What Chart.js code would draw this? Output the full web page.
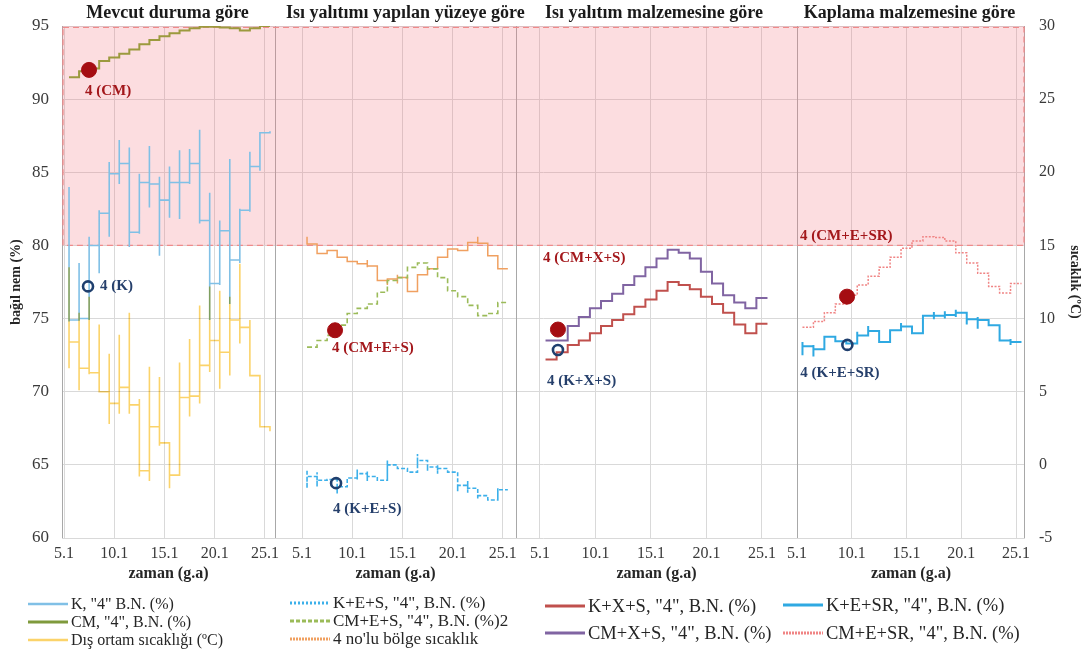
<!DOCTYPE html>
<html>
<head>
<meta charset="utf-8">
<script src="https://cdn.jsdelivr.net/npm/chart.js@4.4.1/dist/chart.umd.min.js"></script>
<style>
  html, body { margin: 0; padding: 0; background: #ffffff; }
  #wrap { width: 1090px; height: 650px; position: relative; }
</style>
</head>
<body>
<div id="wrap"><canvas id="chart" width="1090" height="650"></canvas></div>
<script>
// ---- Days of January (each day's hourly readings are stacked on that day) ----
const days = [5, 6, 7, 8, 9, 10, 11, 12, 13, 14, 15, 16, 17, 18, 19, 20, 21, 22, 23, 24, 25];
const tickDays = [5, 10, 15, 20, 25];
const tickLabels = ['5.1', '10.1', '15.1', '20.1', '25.1'];
const panelTitles = ['Mevcut duruma göre', 'Isı yalıtımı yapılan yüzeye göre',
                     'Isı yalıtım malzemesine göre', 'Kaplama malzemesine göre'];
const comfortBand = [80, 95];   // bağıl nem (%) range shaded as risky

// ---- Panel 1: mevcut durum ----
const kLast  = [74.9, 75.0, 80.0, 82.2, 84.9, 85.6, 80.9, 84.3, 84.2, 83.1, 84.3, 84.3, 85.6, 81.7, 77.4, 81.0, 79.0, 82.4, 85.4, 87.7, 87.8];
const kLow   = [74.8, 74.9, 74.9, 78.1, 80.6, 84.2, 79.9, 80.8, 82.6, 79.3, 81.9, 81.8, 84.2, 81.5, 74.9, 77.3, 76.0, 78.8, 82.3, 85.1, 87.7];
const kHigh  = [84.0, 78.8, 80.6, 82.4, 85.7, 87.2, 86.7, 84.9, 86.8, 84.7, 85.4, 86.5, 86.6, 87.9, 83.6, 81.7, 85.9, 82.5, 86.4, 87.7, 87.8];
const cmLast = [91.5, 91.9, 92.1, 92.6, 92.85, 93.1, 93.4, 93.75, 94.05, 94.3, 94.5, 94.7, 94.85, 94.95, 94.95, 94.9, 94.85, 94.7, 94.85, 95.0, 95.0];
const outdoorLast = [8.4, 6.6, 6.3, 5.0, 4.2, 5.3, 4.1, -0.4, 2.6, 1.5, -0.7, 4.6, 4.7, 6.8, 8.5, 7.7, 9.9, 9.4, 6.1, 2.6, 2.3];
const outdoorLow  = [6.6, 5.1, 6.2, 5.0, 2.8, 3.5, 3.5, -0.8, -1.1, 1.3, -1.6, -0.7, 3.3, 4.2, 6.35, 5.2, 6.1, 8.3, 6.1, 2.6, 2.3];
const outdoorHigh = [13.5, 10.4, 11.5, 9.6, 7.6, 8.9, 10.4, 4.5, 6.7, 6.0, 1.5, 7.0, 8.6, 10.9, 12.2, 11.9, 11.5, 13.75, 9.9, 6.1, 2.6];

// ---- Panel 2: yalıtım yapılan yüzey ----
const kesLast  = [64.2, 63.95, 64.0, 63.5, 64.1, 64.4, 64.2, 63.95, 65.0, 64.75, 64.5, 65.3, 64.85, 64.75, 64.5, 63.6, 63.4, 62.9, 62.6, 63.3, 63.3];
const kesLow   = [63.4, 63.5, null, 63.05, null, 64.0, 63.9, null, 64.0, null, null, 64.85, 64.6, 64.4, null, 63.2, 63.1, 62.7, null, 62.8, null];
const kesHigh  = [64.6, 64.5, null, 64.0, null, 64.7, 64.6, null, 65.3, null, null, 65.75, 65.1, 65.0, null, 64.2, 63.9, 63.3, null, 63.4, null];
const cmesLast = [73.05, 73.5, 73.85, 74.55, 75.35, 75.7, 76.0, 76.8, 77.6, 77.8, 78.5, 78.8, 78.4, 77.8, 76.9, 76.5, 75.9, 75.2, 75.35, 76.1, 76.1];
const zoneLast = [15.1, 14.45, 14.65, 14.2, 13.9, 13.75, 13.6, 12.6, 12.7, 12.8, 11.85, 13.0, 13.4, 14.2, 14.75, 14.65, 15.2, 15.15, 14.3, 13.4, 13.4];
const zoneLow  = [null, null, null, null, null, null, 13.5, null, 12.3, 12.4, null, null, null, null, 14.5, null, 14.6, null, null, null, null];
const zoneHigh = [15.6, null, null, null, null, null, 14.0, null, null, 13.0, null, null, null, null, null, null, null, 15.6, null, null, null];

// ---- Panel 3: yalıtım malzemesi ----
const kxsLast  = [72.2, 72.7, 73.2, 73.5, 74.0, 74.5, 74.9, 75.3, 75.8, 76.3, 76.9, 77.5, 77.3, 77.0, 76.5, 76.0, 75.4, 74.6, 74.0, 74.65, 74.65];
const cmxsLast = [73.5, 73.5, 74.5, 75.1, 75.7, 76.2, 76.7, 77.3, 77.9, 78.5, 79.1, 79.7, 79.5, 79.1, 78.2, 77.4, 76.6, 76.1, 75.7, 76.4, 76.4];

// ---- Panel 4: kaplama malzemesi ----
const kesrLast  = [73.1, 72.9, 73.75, 73.45, 73.3, 73.85, 74.15, 73.4, 74.2, 74.45, 74.0, 75.2, 75.2, 75.25, 75.4, 74.95, 74.9, 74.55, 73.5, 73.4, 73.4];
const kesrLow   = [72.5, 72.4, null, null, null, 73.6, 73.9, null, null, 74.2, null, null, 74.95, 75.0, 75.1, 74.6, 74.3, null, null, 73.2, null];
const kesrHigh  = [73.4, 73.2, null, null, null, 74.1, 74.5, null, null, 74.7, null, null, 75.45, 75.5, 75.6, 75.2, 75.1, null, null, 73.6, null];
const cmesrLast = [74.4, 74.8, 75.4, 76.0, 76.6, 77.3, 77.9, 78.5, 79.2, 79.8, 80.3, 80.6, 80.55, 80.3, 79.5, 78.8, 78.1, 77.2, 76.75, 77.4, 77.4];

// ---- Point "4" markers ----
const markerNames  = ['4 (CM)', '4 (K)', '4 (CM+E+S)', '4 (K+E+S)', '4 (CM+X+S)', '4 (K+X+S)', '4 (CM+E+SR)', '4 (K+E+SR)'];
const markerPanels = [0, 0, 1, 1, 2, 2, 3, 3];
const markerDays   = [7.49, 7.39, 8.29, 8.39, 6.62, 6.62, 9.57, 9.6];
const markerValues = [92.0, 77.2, 74.2, 63.75, 74.25, 72.85, 76.5, 73.2];

// ---- Layout / style settings ----
const serif = "'Liberation Serif', 'Times New Roman', serif";
const panelAxes = ['x1', 'x2', 'x3', 'x4'];
const panelRanges = [[4.8, 26.0], [2.31, 26.31], [2.84, 28.16], [5.0, 25.82]];
const panelWeights = [213, 241, 281, 228];
const markerLabelOffsets = [[-4, 21], [12, 0], [-3, 18], [-3, 26], [-15, -71], [-11, 31], [-47, -61], [-47, 28]];
const legendColumns = [
  { x: 28,  rows: [604, 622, 640], fontSize: 16 },
  { x: 290, rows: [603, 621, 639], fontSize: 17 },
  { x: 545, rows: [606, 633], fontSize: 18.5 },
  { x: 783, rows: [605, 633], fontSize: 18.5 }
];

// Hourly readings of one day share the same x (the middle of the day), so each
// day becomes a vertical run and consecutive days are joined horizontally.
function dailyPath(last, low, high) {
  const pts = [];
  days.forEach((d, i) => {
    const x = d + 0.5;
    if (i > 0) pts.push({ x, y: last[i - 1] });
    if (high && high[i] != null) pts.push({ x, y: high[i] });
    if (low && low[i] != null) pts.push({ x, y: low[i] });
    pts.push({ x, y: last[i] });
  });
  return pts;
}

function series(label, panel, yAxis, data, style) {
  return Object.assign({
    type: 'line', label, data,
    xAxisID: panelAxes[panel], yAxisID: yAxis,
    pointRadius: 0, pointHoverRadius: 0, pointHitRadius: 0,
    tension: 0, fill: false, borderCapStyle: 'butt', borderJoinStyle: 'miter'
  }, style);
}

const datasets = [
  series('K, "4" B.N. (%)', 0, 'y', dailyPath(kLast, kLow, kHigh),
    { borderColor: '#80c0e6', borderWidth: 1.6, order: 5, legendSlot: [0, 0], legendWidth: 2.5 }),
  series('Dış ortam sıcaklığı (ºC)', 0, 'y2', dailyPath(outdoorLast, outdoorLow, outdoorHigh),
    { borderColor: '#fbd36a', borderWidth: 1.6, order: 4, blend: 'multiply', legendSlot: [0, 2], legendWidth: 2.5 }),
  series('CM, "4", B.N. (%)', 0, 'y', dailyPath(cmLast),
    { borderColor: '#9c9a3e', borderWidth: 2, order: 3, legendSlot: [0, 1], legendColor: '#7f9a3c' }),

  series('K+E+S, "4", B.N. (%)', 1, 'y', dailyPath(kesLast, kesLow, kesHigh),
    { borderColor: '#3cb0ea', borderWidth: 1.6, borderDash: [4, 2], order: 3, legendSlot: [1, 0], legendDash: [2, 2] }),
  series('CM+E+S, "4", B.N. (%)2', 1, 'y', dailyPath(cmesLast),
    { borderColor: '#9bbb59', borderWidth: 1.6, borderDash: [5, 3], order: 3, legendSlot: [1, 1], legendDash: [4, 2] }),
  series("4 no'lu bölge sıcaklık", 1, 'y2', dailyPath(zoneLast, zoneLow, zoneHigh),
    { borderColor: '#f0a060', borderWidth: 1.5, order: 4, legendSlot: [1, 2], legendDash: [2, 1] }),

  series('K+X+S, "4", B.N. (%)', 2, 'y', dailyPath(kxsLast),
    { borderColor: '#c0504d', borderWidth: 2, order: 3, legendSlot: [2, 0] }),
  series('CM+X+S, "4", B.N. (%)', 2, 'y', dailyPath(cmxsLast),
    { borderColor: '#8064a2', borderWidth: 2, order: 3, legendSlot: [2, 1] }),

  series('K+E+SR, "4", B.N. (%)', 3, 'y', dailyPath(kesrLast, kesrLow, kesrHigh),
    { borderColor: '#2fa9e2', borderWidth: 2, order: 3, legendSlot: [3, 0] }),
  series('CM+E+SR, "4", B.N. (%)', 3, 'y', dailyPath(cmesrLast),
    { borderColor: '#f08484', borderWidth: 1.5, borderDash: [2, 1.5], order: 3, legendSlot: [3, 1], legendDash: [2, 1] })
];

// Point markers, one dataset each so they can sit on their own panel axis
markerNames.forEach((name, i) => {
  const filled = i % 2 === 0;
  datasets.push({
    type: 'line', label: name, showLine: false,
    data: [{ x: markerDays[i], y: markerValues[i] }],
    xAxisID: panelAxes[markerPanels[i]], yAxisID: 'y',
    pointRadius: filled ? 7.5 : 5,
    pointHoverRadius: filled ? 7.5 : 5,
    pointBackgroundColor: filled ? '#a50d12' : 'rgba(255,255,255,0)',
    pointBorderColor: filled ? '#a50d12' : '#1f3f6e',
    pointBorderWidth: filled ? 1 : 2.6,
    order: 0,
    markerText: name,
    markerTextColor: filled ? '#a3171b' : '#253f6b',
    markerOffset: markerLabelOffsets[i]
  });
});

const panelScales = {};
panelAxes.forEach((id, i) => {
  panelScales[id] = {
    type: 'linear', position: 'bottom',
    stack: 'panels', stackWeight: panelWeights[i],
    min: panelRanges[i][0], max: panelRanges[i][1],
    afterBuildTicks: s => { s.ticks = tickDays.map(v => ({ value: v })); },
    afterFit: s => { s.height = 47; },
    ticks: {
      autoSkip: false, maxRotation: 0, padding: 6,
      color: '#3a3a3a', font: { family: serif, size: 16 },
      callback: v => tickLabels[tickDays.indexOf(v)]
    },
    grid: { color: '#d9d9d9', lineWidth: 1, drawTicks: false },
    border: { display: false },
    title: {
      display: true, text: 'zaman (g.a)', color: '#262626',
      font: { family: serif, size: 16, weight: 'bold' },
      padding: { top: 0, bottom: 2 }
    }
  };
});

// Shaded high-humidity band with dashed red outline, plus the panel frames
const bandPlugin = {
  id: 'comfortBand',
  beforeDatasetsDraw(chart) {
    const { ctx, chartArea: a, scales } = chart;
    const top = scales.y.getPixelForValue(comfortBand[1]);
    const bottom = scales.y.getPixelForValue(comfortBand[0]);
    ctx.save();
    ctx.strokeStyle = '#a8a8a8';
    ctx.lineWidth = 1;
    panelAxes.forEach(id => {
      const x = Math.round(scales[id].left) + 0.5;
      ctx.beginPath(); ctx.moveTo(x, a.top); ctx.lineTo(x, a.bottom); ctx.stroke();
    });
    const xr = Math.round(scales.x4.right) - 0.5;
    ctx.beginPath(); ctx.moveTo(xr, a.top); ctx.lineTo(xr, a.bottom); ctx.stroke();
    ctx.fillStyle = 'rgba(245, 120, 130, 0.25)';
    ctx.fillRect(a.left, top, a.right - a.left, bottom - top);
    ctx.strokeStyle = '#f08a8a';
    ctx.lineWidth = 1.2;
    ctx.setLineDash([6, 4]);
    ctx.strokeRect(a.left + 1, top + 1.5, a.right - a.left - 2, bottom - top - 1.5);
    ctx.restore();
  }
};

// Multiply blending where the outdoor temperature crosses the K series
const blendPlugin = {
  id: 'blend',
  beforeDatasetDraw(chart, args) {
    const ds = chart.data.datasets[args.index];
    chart.ctx.save();
    if (ds.blend) chart.ctx.globalCompositeOperation = ds.blend;
  },
  afterDatasetDraw(chart) {
    chart.ctx.restore();
  }
};

const textPlugin = {
  id: 'panelText',
  afterDatasetsDraw(chart) {
    const { ctx } = chart;
    ctx.save();
    ctx.font = `bold 15px ${serif}`;
    ctx.textAlign = 'left';
    ctx.textBaseline = 'middle';
    chart.data.datasets.forEach((ds, i) => {
      if (!ds.markerText) return;
      const pt = chart.getDatasetMeta(i).data[0];
      ctx.fillStyle = ds.markerTextColor;
      ctx.fillText(ds.markerText, pt.x + ds.markerOffset[0], pt.y + ds.markerOffset[1]);
    });
    ctx.restore();
  },
  afterDraw(chart) {
    const { ctx, scales } = chart;
    ctx.save();
    // panel titles
    ctx.font = `bold 18px ${serif}`;
    ctx.fillStyle = '#1a1a1a';
    ctx.textAlign = 'center';
    ctx.textBaseline = 'middle';
    panelAxes.forEach((id, i) => {
      const s = scales[id];
      const cx = (s.getPixelForValue(tickDays[0]) + s.getPixelForValue(tickDays[tickDays.length - 1])) / 2;
      ctx.fillText(panelTitles[i], cx + 3, 13);
    });
    // legend
    ctx.textAlign = 'left';
    ctx.fillStyle = '#262626';
    chart.data.datasets.forEach(ds => {
      if (!ds.legendSlot) return;
      const col = legendColumns[ds.legendSlot[0]];
      const y = col.rows[ds.legendSlot[1]];
      ctx.beginPath();
      ctx.strokeStyle = ds.legendColor || ds.borderColor;
      ctx.lineWidth = ds.legendWidth || 3;
      ctx.setLineDash(ds.legendDash || ds.borderDash || []);
      ctx.moveTo(col.x, y);
      ctx.lineTo(col.x + 40, y);
      ctx.stroke();
      ctx.setLineDash([]);
      ctx.font = `${col.fontSize}px ${serif}`;
      ctx.fillText(ds.label, col.x + 43, y + 1);
    });
    ctx.restore();
  }
};

new Chart(document.getElementById('chart'), {
  type: 'line',
  data: { datasets },
  options: {
    responsive: false,
    animation: false,
    events: [],
    layout: { padding: { top: 26, bottom: 65, left: 0, right: 0 } },
    plugins: { legend: { display: false }, tooltip: { enabled: false }, title: { display: false } },
    scales: Object.assign({}, panelScales, {
      y: {
        type: 'linear', position: 'left', min: 60, max: 95,
        afterFit: s => { s.width = 62; },
        ticks: { stepSize: 5, padding: 13, color: '#3a3a3a', font: { family: serif, size: 17 } },
        grid: { color: '#d9d9d9', lineWidth: 1, drawTicks: false },
        border: { display: false },
        title: {
          display: true, text: 'bağıl nem (%)', color: '#262626',
          font: { family: serif, size: 14, weight: 'bold' }, padding: { top: 8, bottom: 0 }
        }
      },
      y2: {
        type: 'linear', position: 'right', min: -5, max: 30,
        afterFit: s => { s.width = 65; },
        ticks: { stepSize: 5, padding: 14, color: '#3a3a3a', font: { family: serif, size: 16 } },
        grid: { drawOnChartArea: false, drawTicks: false },
        border: { display: false },
        title: {
          display: true, text: 'sıcaklık (ºC)', color: '#262626',
          font: { family: serif, size: 14, weight: 'bold' }, padding: { top: 7, bottom: 0 }
        }
      }
    })
  },
  plugins: [bandPlugin, blendPlugin, textPlugin]
});
</script>
</body>
</html>
